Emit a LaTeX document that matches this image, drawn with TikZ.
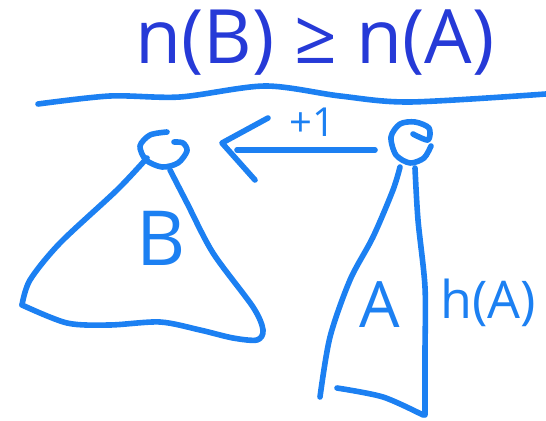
\documentclass[tikz,border=0pt]{standalone}
\usepackage{fontspec}
\setmainfont{Open Sans}
\usetikzlibrary{positioning}

\definecolor{inkblue}{RGB}{28,128,242}
\definecolor{titleblue}{RGB}{38,58,215}

\begin{document}
\begin{tikzpicture}[
    x=0.5pt, y=-0.5pt,
    ink/.style   = {draw=inkblue, line width=2.8pt, line cap=round, line join=round},
    hand/.style  = {text=inkblue, font=\fontsize{26}{26}\selectfont, inner sep=0pt},
    title/.style = {text=titleblue, font=\fontsize{37.5}{37.5}\selectfont, inner sep=0pt}
  ]
  \useasboundingbox (0,0) rectangle (546,421);

  % heading
  \node[title] (ineq) at (315,43) {n(B) ≥ n(A)};

  % rule under the heading
  \draw[ink] plot[smooth] coordinates {(38,104) (110,96) (180,97) (265,86) (340,96) (410,102) (546,94)};

  % head of B and its tree
  \coordinate (headB) at (163,150);
  \draw[ink] plot[smooth] coordinates {(167,132) (150,135) (140,146) (146,160) (162,167) (178,163) (187,151) (183,143) (174,142)};
  \draw[ink] plot[smooth] coordinates {(147,158) (117,190) (60,243) (30,280) (22,305)};
  \draw[ink] plot[smooth] coordinates {(22,305) (67,323) (110,325) (160,322) (200,330) (233,338) (257,340) (263,330) (253,307) (213,253) (187,203) (170,170)};
  \node[hand, font=\fontsize{38}{38}\selectfont] (labB) at (161,238) {B};

  % head of A and its tree
  \coordinate (headA) at (411,143);
  \draw[ink] plot[smooth] coordinates {(413,134) (428,140) (429,128) (415,122) (400,124) (391,137) (396,155) (410,163) (424,158) (431,146)};
  \draw[ink] plot[smooth] coordinates {(400,167) (393,190) (373,237) (350,280) (330,337) (320,397)};
  \draw[ink] plot[smooth] coordinates {(415,168) (418,220) (425,287) (425,353) (425,415)};
  \draw[ink] plot[smooth] coordinates {(337,388) (383,397) (423,415)};
  \node[hand, font=\fontsize{32}{32}\selectfont] (labA) at (380,305) {A};
  \node[hand] (hA) at (488,303) {h(A)};

  % arrow from A to B
  \coordinate (tail) at (375,150);
  \coordinate (tip) at (237,150);
  \draw[ink] (tail) -- (tip);
  \draw[ink] (268,118) -- (222,143) -- (255,180);
  \node[hand, font=\fontsize{20}{20}\selectfont] (plus) at (312,122) {+1};

\end{tikzpicture}
\end{document}
